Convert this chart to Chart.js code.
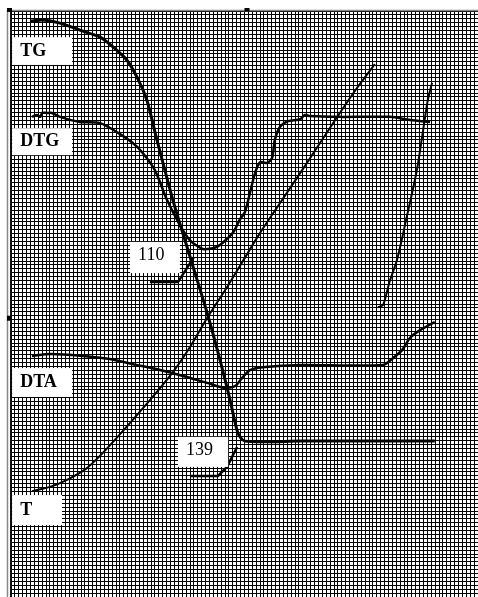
<!DOCTYPE html>
<html>
<head>
<meta charset="utf-8">
<script src="https://cdn.jsdelivr.net/npm/chart.js@4.4.1/dist/chart.umd.min.js"></script>
<style>
  html, body { margin: 0; padding: 0; background: #fff; overflow: hidden; }
  #wrap { width: 478px; height: 597px; }
</style>
</head>
<body>
<div id="wrap"><canvas id="myChart"></canvas></div>
<script>
// valori (unita' = quadretti della griglia)
const tgX = [4.9, 8.2, 12.6, 17.7, 22.9, 26.2, 29.8, 32.4, 34.9, 37.5, 41.6, 46.0, 50.4, 53.7, 56.3, 58.3, 60.1, 74.3, 108.9];
const tgY = [147.4, 147.7, 146.9, 145.1, 143.3, 140.8, 137.4, 133.0, 127.2, 117.0, 101.6, 87.1, 72.7, 60.7, 50.4, 42.0, 39.9, 39.9, 39.9];

const dtgX = [5.4, 6.7, 7.5, 8.0, 9.3, 10.5, 12.6, 17.7, 22.9, 27.2, 31.3, 33.9, 37.0, 40.1, 43.4, 46.0, 49.3, 52.9, 57.0, 58.8, 60.1, 61.4, 62.7, 64.0, 65.8, 67.1, 67.8, 69.1, 71.2, 74.3, 75.5, 76.8, 84.5, 97.4, 102.5, 107.7];
const dtgY = [122.9, 123.4, 122.9, 123.9, 123.9, 123.9, 122.9, 121.6, 121.3, 119.0, 116.2, 113.6, 109.2, 101.6, 95.2, 91.3, 89.1, 89.6, 93.2, 96.6, 98.5, 103.4, 108.5, 111.3, 111.1, 112.4, 117.0, 120.3, 121.8, 122.3, 123.4, 123.1, 122.9, 122.9, 122.1, 121.6];

const dtaX = [5.4, 10.0, 18.5, 25.4, 31.3, 38.3, 45.2, 50.4, 55.0, 57.6, 59.4, 61.4, 65.3, 74.3, 95.6, 98.2, 100.5, 102.5, 105.1, 108.9];
const dtaY = [61.7, 62.2, 61.7, 60.9, 59.6, 58.1, 56.3, 54.8, 53.5, 54.0, 56.1, 58.1, 58.9, 59.4, 59.4, 61.2, 63.2, 66.3, 68.3, 70.4];

const tX = [5.4, 10.0, 14.4, 19.5, 23.6, 26.7, 35.7, 41.4, 46.0, 50.4, 55.5, 58.8, 64.0, 69.1, 74.3, 79.4, 84.5, 88.9, 93.5];
const tY = [27.1, 28.2, 30.0, 33.0, 36.9, 40.2, 50.4, 57.3, 64.0, 71.4, 79.3, 84.7, 93.2, 100.8, 108.5, 116.2, 123.9, 130.3, 136.4];
// secondo tratto di T (a destra)
const t2X = [94.3, 95.6, 96.9, 97.4, 99.2, 101.7, 104.3, 105.9, 107.1, 108.2];
const t2Y = [74.2, 74.7, 79.3, 81.1, 86.3, 97.3, 109.3, 119.5, 127.2, 131.6];

// linee di richiamo dei picchi
const lead110X = [35.7, 42.9, 47.0];
const lead110Y = [80.6, 80.6, 87.0];
const lead139X = [46.0, 53.2, 55.5, 58.1];
const lead139Y = [31.0, 31.0, 33.3, 38.4];

const curveNames = ['TG', 'DTG', 'DTA', 'T'];
const peakValues = ['110', '139'];

const pts = (xs, ys) => xs.map((x, i) => ({ x, y: ys[i] }));

const tData = pts(tX, tY).concat([{ x: 94, y: null }], pts(t2X, t2Y));

// riquadri bianchi con le etichette
const boxes = [
  { text: curveNames[0], x0: 0.3, x1: 15.7, y0: 143.3, y1: 136.2, bold: true },
  { text: curveNames[1], x0: 0.3, x1: 15.7, y0: 120.0, y1: 113.1, bold: true },
  { text: curveNames[2], x0: 0.3, x1: 15.7, y0: 58.6, y1: 51.2, bold: true },
  { text: curveNames[3], x0: 0.3, x1: 13.1, y0: 26.1, y1: 18.4, bold: true },
  { text: peakValues[0], x0: 30.6, x1: 43.4, y0: 90.9, y1: 82.9, bold: false },
  { text: peakValues[1], x0: 42.9, x1: 55.8, y0: 41.0, y1: 33.3, bold: false }
];

const labelBoxes = {
  id: 'labelBoxes',
  beforeDraw(chart) {
    const c = chart.ctx;
    c.save();
    c.fillStyle = '#fff';
    c.fillRect(0, 0, chart.width, chart.height);
    c.restore();
  },
  afterDatasetsDraw(chart) {
    const c = chart.ctx;
    const xs = chart.scales.x, ys = chart.scales.y;
    const a = chart.chartArea;
    c.save();
    // cornice
    c.strokeStyle = '#888';
    c.lineWidth = 1.5;
    c.beginPath();
    c.moveTo(a.left - 3.5, a.top - 1);
    c.lineTo(a.left - 3.5, chart.height);
    c.moveTo(a.left - 3.5, a.top - 0.5);
    c.lineTo(chart.width, a.top - 0.5);
    c.stroke();
    c.fillStyle = '#000';
    c.fillRect(a.left - 4, a.top - 3, 5, 4);
    c.fillRect(xs.getPixelForValue(60), a.top - 3, 5, 3);
    c.fillRect(a.left - 4, ys.getPixelForValue(72), 4, 5);

    boxes.forEach(b => {
      const l = xs.getPixelForValue(b.x0), r = xs.getPixelForValue(b.x1);
      const t = ys.getPixelForValue(b.y0), bt = ys.getPixelForValue(b.y1);
      c.fillStyle = '#fff';
      c.fillRect(l, t, r - l, bt - t);
      c.fillStyle = '#000';
      c.font = (b.bold ? 'bold 18px' : '18px') + ' "Liberation Serif", "DejaVu Serif", serif';
      c.textBaseline = 'middle';
      c.textAlign = 'left';
      c.fillText(b.text, l + 8, (t + bt) / 2 - (b.bold ? 0 : 2));
    });
    c.restore();
  }
};

const lineStyle = (data, w) => ({
  data, borderColor: '#000', borderWidth: w, pointRadius: 0, tension: 0.25, fill: false
});

const ctx = document.getElementById('myChart').getContext('2d');
const chart = new Chart(ctx, {
  type: 'line',
  data: {
    datasets: [
      Object.assign({ label: 'TG' }, lineStyle(pts(tgX, tgY), 3)),
      Object.assign({ label: 'DTG' }, lineStyle(pts(dtgX, dtgY), 2.5)),
      Object.assign({ label: 'DTA' }, lineStyle(pts(dtaX, dtaY), 2.5)),
      Object.assign({ label: 'T' }, lineStyle(tData, 2)),
      Object.assign({ label: '110' }, lineStyle(pts(lead110X, lead110Y), 2.5), { tension: 0 }),
      Object.assign({ label: '139' }, lineStyle(pts(lead139X, lead139Y), 2.5), { tension: 0 })
    ]
  },
  options: {
    responsive: true,
    maintainAspectRatio: false,
    animation: false,
    layout: { padding: { left: 11, top: 11, right: 0, bottom: 0 } },
    plugins: { legend: { display: false }, tooltip: { enabled: false } },
    scales: {
      x: {
        type: 'linear', min: 0, max: 120,
        ticks: { display: false, stepSize: 1, maxTicksLimit: 1000 },
        grid: { color: '#000', lineWidth: 1, drawTicks: false },
        border: { display: false }
      },
      y: {
        type: 'linear', min: 0, max: 150,
        ticks: { display: false, stepSize: 1, maxTicksLimit: 1000 },
        grid: { color: '#000', lineWidth: 1, drawTicks: false },
        border: { display: true, color: '#111', width: 1.5 }
      }
    }
  },
  plugins: [labelBoxes]
});
</script>
</body>
</html>
